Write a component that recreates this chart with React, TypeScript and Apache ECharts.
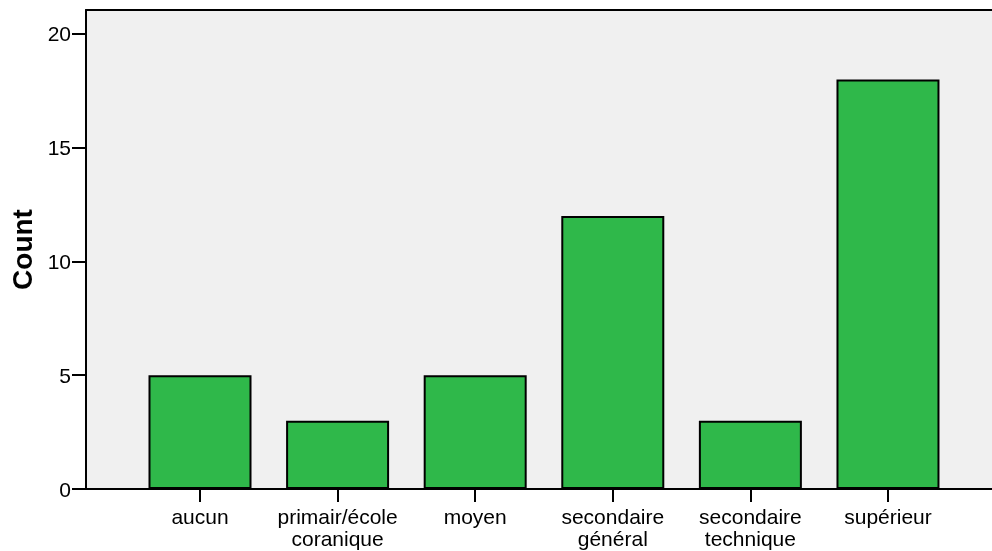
import React, { useEffect, useRef } from "react";
import * as echarts from "echarts";

const categories = [
  "aucun",
  "primair/école\ncoranique",
  "moyen",
  "secondaire\ngénéral",
  "secondaire\ntechnique",
  "supérieur",
];
const counts = [5, 3, 5, 12, 3, 18];
const yTicks = [0, 5, 10, 15, 20];

export default function App() {
  const ref = useRef<HTMLDivElement>(null);
  useEffect(() => {
    if (!ref.current) return;
    const chart = echarts.init(ref.current, undefined, { renderer: "svg" });
    const positions = categories.map((_, i) => i);
    const xMin = -0.8285;
    const xMax = 5.756;
    chart.setOption({
      animation: false,
      textStyle: { fontFamily: "Liberation Sans, Arial, sans-serif" },
      grid: {
        left: 86,
        top: 10,
        right: 0,
        bottom: 62,
        show: true,
        backgroundColor: "#f0f0f0",
        borderWidth: 0,
      },
      xAxis: [
        {
          type: "value",
          min: xMin,
          max: xMax,
          splitLine: { show: false },
          axisLine: { show: true, onZero: false, lineStyle: { color: "#000", width: 2 } },
          axisTick: {
            show: true,
            inside: false,
            customValues: positions,
            length: 13,
            lineStyle: { color: "#000", width: 2 },
          },
          axisLabel: {
            customValues: positions,
            formatter: (v: number) => categories[Math.round(v)] ?? "",
            color: "#000",
            fontSize: 21,
            lineHeight: 22,
            margin: 16,
            fontFamily: "Liberation Sans, Arial, sans-serif",
          },
        },
        {
          type: "value",
          position: "top",
          min: xMin,
          max: xMax,
          splitLine: { show: false },
          axisLine: { show: true, onZero: false, lineStyle: { color: "#000", width: 2 } },
          axisTick: { show: false },
          axisLabel: { show: false },
        },
      ],
      yAxis: {
        type: "value",
        min: 0,
        max: 21.05,
        name: "Count",
        nameLocation: "middle",
        nameRotate: 90,
        nameGap: 50,
        nameTextStyle: {
          fontSize: 28,
          fontWeight: "bold",
          color: "#000",
          fontFamily: "Liberation Sans, Arial, sans-serif",
        },
        splitLine: { show: false },
        axisLine: { show: true, onZero: false, lineStyle: { color: "#000", width: 2 } },
        axisTick: {
          show: true,
          inside: false,
          customValues: yTicks,
          length: 14,
          lineStyle: { color: "#000", width: 2 },
        },
        axisLabel: {
          customValues: yTicks,
          color: "#000",
          fontSize: 21,
          margin: 15,
          fontFamily: "Liberation Sans, Arial, sans-serif",
        },
      },
      series: [
        {
          type: "bar",
          xAxisIndex: 0,
          data: counts.map((c, i) => [i, c]),
          barWidth: 103,
          itemStyle: { color: "#2fb84a", borderColor: "#000", borderWidth: 2 },
        },
      ],
    });
    return () => chart.dispose();
  }, []);
  return (
    <div
      ref={ref}
      style={{ position: "fixed", left: 0, top: 0, width: 992, height: 551 }}
    />
  );
}
